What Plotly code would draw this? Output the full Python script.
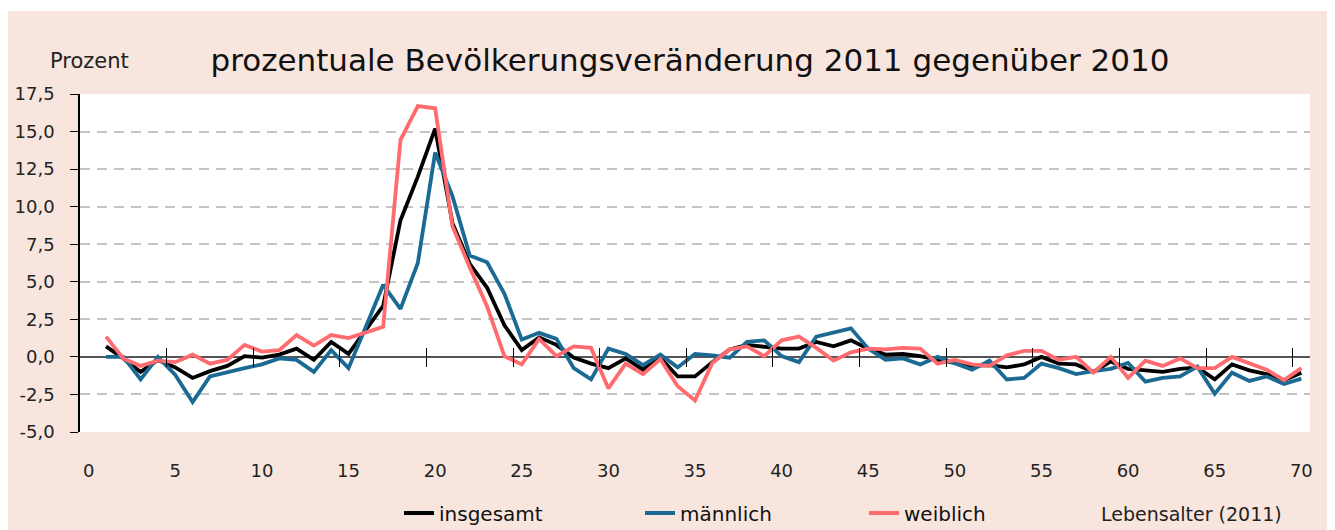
import plotly.graph_objects as go

ages = list(range(1, 71))

insgesamt = [0.7, -0.1, -1.0, -0.2, -0.7, -1.4, -0.95, -0.6, 0.05, -0.05,
             0.15, 0.55, -0.2, 1.0, 0.2, 1.8, 3.4, 9.1, 12.0, 15.2,
             8.9, 6.2, 4.6, 2.1, 0.45, 1.3, 0.8, -0.05, -0.45, -0.75,
             -0.1, -0.85, -0.05, -1.3, -1.3, -0.35, 0.5, 0.8, 0.7, 0.55,
             0.55, 1.0, 0.7, 1.1, 0.55, 0.15, 0.2, 0.05, -0.2, -0.4,
             -0.6, -0.55, -0.7, -0.5, 0.0, -0.45, -0.5, -1.0, -0.3, -0.8,
             -0.9, -1.0, -0.8, -0.7, -1.5, -0.5, -0.9, -1.15, -1.55, -1.05]

maennlich = [0.0, 0.0, -1.5, 0.0, -1.2, -3.0, -1.3, -1.0, -0.75, -0.5,
             -0.1, -0.2, -1.0, 0.45, -0.75, 2.0, 4.8, 3.2, 6.25, 13.6,
             10.7, 6.75, 6.3, 4.2, 1.15, 1.6, 1.2, -0.75, -1.5, 0.55,
             0.2, -0.55, 0.15, -0.7, 0.2, 0.1, -0.05, 1.0, 1.1, 0.05,
             -0.35, 1.35, 1.6, 1.9, 0.55, -0.2, -0.1, -0.5, 0.0, -0.4,
             -0.85, -0.25, -1.5, -1.4, -0.45, -0.75, -1.15, -0.95, -0.8, -0.4,
             -1.65, -1.4, -1.3, -0.65, -2.45, -1.05, -1.6, -1.3, -1.8, -1.45]

weiblich = [1.35, -0.1, -0.6, -0.25, -0.35, 0.15, -0.45, -0.2, 0.8, 0.35,
            0.45, 1.45, 0.75, 1.45, 1.25, 1.6, 2.0, 14.45, 16.7, 16.55,
            8.7, 5.95, 3.35, 0.05, -0.5, 1.2, 0.05, 0.7, 0.6, -2.1,
            -0.45, -1.15, -0.15, -1.95, -2.9, -0.4, 0.5, 0.7, 0.05, 1.1,
            1.35, 0.6, -0.25, 0.3, 0.55, 0.5, 0.6, 0.55, -0.45, -0.2,
            -0.5, -0.6, 0.1, 0.4, 0.4, -0.2, 0.0, -1.05, 0.0, -1.4,
            -0.25, -0.6, -0.1, -0.75, -0.75, 0.0, -0.45, -0.85, -1.55, -0.75]

series_names = ["insgesamt", "männlich", "weiblich"]
series_colors = ["#000000", "#1B6A93", "#FF6B6E"]

y_ticks = [-5.0, -2.5, 0.0, 2.5, 5.0, 7.5, 10.0, 12.5, 15.0, 17.5]
x_labels = list(range(0, 71, 5))
x_marks = [v - 0.5 for v in range(5, 71, 5)]

title_text = "prozentuale Bevölkerungsveränderung 2011 gegenüber 2010"
y_unit = "Prozent"
x_title = "Lebensalter (2011)"

# page body has an 8px margin: figure pixel = screen pixel - OFF
OFF = 8
W, H = 1335, 530
L = 80 - OFF
T = 94 - OFF
R = W - (1310 - OFF)
B = H - (432 - OFF)
PW, PH = W - L - R, H - T - B

def px_x(px):
    return (px - OFF - L) / PW

def px_y(py):
    return (H - B - (py - OFF)) / PH

FONT = "DejaVu Sans, sans-serif"
PEACH = "#F8E6DE"

fig = go.Figure()
legend_ids = ["legend", "legend2", "legend3"]
for data, name, color, lg in zip([insgesamt, maennlich, weiblich], series_names, series_colors, legend_ids):
    fig.add_trace(go.Scatter(x=ages, y=data, mode="lines", name=name,
                             line=dict(color=color, width=3.8), legend=lg))

leg_common = dict(orientation="h", bgcolor="rgba(0,0,0,0)", yanchor="middle", xanchor="left",
                  font=dict(family=FONT, size=20, color="#111"))
fig.update_layout(
    legend=dict(x=px_x(399), y=px_y(513), **leg_common),
    legend2=dict(x=px_x(640), y=px_y(513), **leg_common),
    legend3=dict(x=px_x(864), y=px_y(513), **leg_common),
)

fig.update_layout(
    width=W, height=H,
    margin=dict(l=L, r=R, t=T, b=B, autoexpand=False),
    paper_bgcolor=PEACH, plot_bgcolor="white",
    showlegend=True,
    xaxis=dict(range=[-0.5, 70.5], tickvals=x_labels, ticktext=[str(v) for v in x_labels],
               showgrid=False, zeroline=False, showline=False, ticks="",
               ticklabelstandoff=26,
               tickfont=dict(family=FONT, size=18, color="#222")),
    yaxis=dict(range=[-5, 17.5], tickvals=y_ticks,
               ticktext=[f"{v:.1f}".replace(".", ",") for v in y_ticks],
               showgrid=True, gridcolor="#C4C4C4", gridwidth=1.5, griddash="10px,7px",
               zeroline=True, zerolinecolor="#555555", zerolinewidth=1.5,
               showline=True, linecolor="#000000", linewidth=1.5,
               ticks="outside", ticklen=8, tickcolor="#000000", tickwidth=1,
               ticklabelstandoff=12,
               tickfont=dict(family=FONT, size=18, color="#222")),
    xaxis2=dict(overlaying="x", anchor="free", position=5 / 22.5, range=[-0.5, 70.5],
                tickvals=x_marks, ticks="inside", ticklen=9, tickcolor="#000000", tickwidth=1,
                showticklabels=False, showgrid=False, zeroline=False, showline=False),
    xaxis3=dict(overlaying="x", anchor="free", position=5 / 22.5, range=[-0.5, 70.5],
                tickvals=x_marks, ticks="outside", ticklen=9, tickcolor="#000000", tickwidth=1,
                showticklabels=False, showgrid=False, zeroline=False, showline=False),
    title=dict(text=title_text, x=(690 - OFF) / W, xref="container", xanchor="center",
               y=1 - 52 / H, yref="container", yanchor="middle",
               font=dict(family=FONT, size=31, color="#111")),
)

# dummy invisible traces to activate overlay axes
fig.add_trace(go.Scatter(x=[None], y=[None], xaxis="x2", showlegend=False, hoverinfo="skip"))
fig.add_trace(go.Scatter(x=[None], y=[None], xaxis="x3", showlegend=False, hoverinfo="skip"))

fig.add_annotation(text=y_unit, xref="paper", yref="paper", x=px_x(131), y=px_y(61),
                   xanchor="right", yanchor="middle", showarrow=False,
                   font=dict(family=FONT, size=21, color="#222"))
fig.add_annotation(text=x_title, xref="paper", yref="paper", x=px_x(1284), y=px_y(514),
                   xanchor="right", yanchor="middle", showarrow=False,
                   font=dict(family=FONT, size=19, color="#222"))

# white strip above the peach panel
fig.add_shape(type="rect", xref="paper", yref="paper", x0=px_x(0), x1=px_x(W + OFF), y0=px_y(11), y1=px_y(0),
              fillcolor="white", line=dict(width=0), layer="below")

fig.write_html("out.html")
